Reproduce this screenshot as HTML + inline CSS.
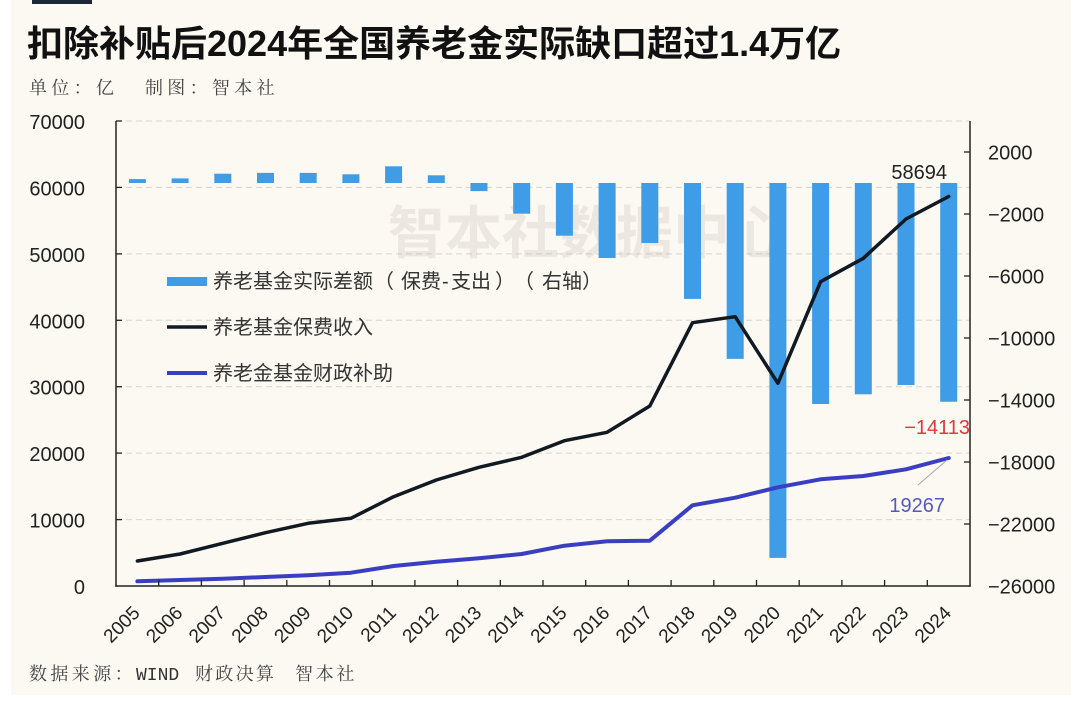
<!DOCTYPE html>
<html>
<head>
<meta charset="utf-8">
<style>
html,body{margin:0;padding:0;background:#ffffff;}
body{width:1080px;height:704px;overflow:hidden;}
svg{display:block;}
</style>
</head>
<body>
<svg width="1080" height="704" viewBox="0 0 1080 704" xmlns="http://www.w3.org/2000/svg">
  <rect x="0" y="0" width="1080" height="704" fill="#ffffff"/>
  <rect x="11" y="0" width="1060" height="695" fill="#fcf8f2"/>
  <rect x="32" y="0" width="60" height="4" fill="#1c2838"/>

  <!-- Title -->
  <text x="27" y="56" font-family="'Liberation Sans','Noto Sans CJK SC',sans-serif" font-size="36" font-weight="bold" fill="#111">扣除补贴后2024年全国养老金实际缺口超过1.4万亿</text>
  <!-- Subtitle -->
  <g font-family="'Noto Serif CJK SC','Noto Sans CJK SC',serif" font-size="18" fill="#444">
    <text x="29" y="94" letter-spacing="4.3">单位：亿</text>
    <text x="145" y="94" letter-spacing="4.3">制图：智本社</text>
  </g>

  <!-- Gridlines -->
  <g stroke="#d8d4ce" stroke-width="1" stroke-dasharray="6,4">
    <line x1="116" y1="121" x2="970" y2="121"/>
    <line x1="116" y1="187.4" x2="970" y2="187.4"/>
    <line x1="116" y1="253.9" x2="970" y2="253.9"/>
    <line x1="116" y1="320.3" x2="970" y2="320.3"/>
    <line x1="116" y1="386.7" x2="970" y2="386.7"/>
    <line x1="116" y1="453.1" x2="970" y2="453.1"/>
    <line x1="116" y1="519.6" x2="970" y2="519.6"/>
  </g>

  <!-- Watermark -->
  <text x="388" y="253" font-family="'Noto Sans CJK SC',sans-serif" font-size="57" font-weight="bold" fill="#b5b0aa" opacity="0.22">智本社数据中心</text>

  <!-- Bars -->
  <g fill="#3e9de6">
    <rect x="128.9" y="179.1" width="17" height="3.9"/>
    <rect x="171.6" y="178.4" width="17" height="4.6"/>
    <rect x="214.3" y="173.7" width="17" height="9.3"/>
    <rect x="257.0" y="172.9" width="17" height="10.1"/>
    <rect x="299.7" y="172.9" width="17" height="10.1"/>
    <rect x="342.4" y="174.3" width="17" height="8.7"/>
    <rect x="385.1" y="166.3" width="17" height="16.7"/>
    <rect x="427.8" y="175.3" width="17" height="7.7"/>
    <rect x="470.5" y="183" width="17" height="8.1"/>
    <rect x="513.2" y="183" width="17" height="30.7"/>
    <rect x="555.9" y="183" width="17" height="52.7"/>
    <rect x="598.6" y="183" width="17" height="75"/>
    <rect x="641.3" y="183" width="17" height="60"/>
    <rect x="684.0" y="183" width="17" height="115.9"/>
    <rect x="726.7" y="183" width="17" height="175.9"/>
    <rect x="769.4" y="183" width="17" height="374.9"/>
    <rect x="812.1" y="183" width="17" height="221"/>
    <rect x="854.8" y="183" width="17" height="211.3"/>
    <rect x="897.5" y="183" width="17" height="202"/>
    <rect x="940.2" y="183" width="17" height="218.75"/>
  </g>

  <!-- Lines -->
  <polyline fill="none" stroke="#111a22" stroke-width="3.5" stroke-linejoin="round" stroke-linecap="round"
    points="137.4,561 180.1,554 222.8,543.3 265.5,532.7 308.2,523.3 350.9,518.3 393.6,496.7 436.3,480 479.0,467.3 521.7,457.3 564.4,440.7 607.1,432.3 649.8,406 692.5,322.7 735.2,316.7 777.9,383.3 820.6,281.7 863.3,258.3 906.0,219 948.7,196.5"/>
  <polyline fill="none" stroke="#3a3fc2" stroke-width="4" stroke-linejoin="round" stroke-linecap="round"
    points="137.4,581.3 180.1,580 222.8,578.7 265.5,577 308.2,575.3 350.9,572.7 393.6,566 436.3,561.7 479.0,558.3 521.7,554 564.4,545.7 607.1,541.3 649.8,540.7 692.5,505.3 735.2,497.7 777.9,487.3 820.6,479.3 863.3,476 906.0,469.3 948.7,458"/>

  <!-- Axes -->
  <g stroke="#222" stroke-width="1.5" fill="none">
    <line x1="116" y1="121" x2="116" y2="586.7"/>
    <line x1="115.3" y1="586" x2="970.7" y2="586"/>
    <line x1="970" y1="121" x2="970" y2="586.7"/>
  </g>
  <g stroke="#222" stroke-width="1.3">
    <line x1="116" y1="121" x2="122" y2="121"/>
    <line x1="116" y1="187.4" x2="122" y2="187.4"/>
    <line x1="116" y1="253.9" x2="122" y2="253.9"/>
    <line x1="116" y1="320.3" x2="122" y2="320.3"/>
    <line x1="116" y1="386.7" x2="122" y2="386.7"/>
    <line x1="116" y1="453.1" x2="122" y2="453.1"/>
    <line x1="116" y1="519.6" x2="122" y2="519.6"/>
    <line x1="964" y1="152" x2="970" y2="152"/>
    <line x1="964" y1="214" x2="970" y2="214"/>
    <line x1="964" y1="276" x2="970" y2="276"/>
    <line x1="964" y1="338" x2="970" y2="338"/>
    <line x1="964" y1="400" x2="970" y2="400"/>
    <line x1="964" y1="462" x2="970" y2="462"/>
    <line x1="964" y1="524" x2="970" y2="524"/>
    <line x1="158.7" y1="586" x2="158.7" y2="580"/>
    <line x1="201.4" y1="586" x2="201.4" y2="580"/>
    <line x1="244.1" y1="586" x2="244.1" y2="580"/>
    <line x1="286.8" y1="586" x2="286.8" y2="580"/>
    <line x1="329.5" y1="586" x2="329.5" y2="580"/>
    <line x1="372.2" y1="586" x2="372.2" y2="580"/>
    <line x1="414.9" y1="586" x2="414.9" y2="580"/>
    <line x1="457.6" y1="586" x2="457.6" y2="580"/>
    <line x1="500.3" y1="586" x2="500.3" y2="580"/>
    <line x1="543.0" y1="586" x2="543.0" y2="580"/>
    <line x1="585.7" y1="586" x2="585.7" y2="580"/>
    <line x1="628.4" y1="586" x2="628.4" y2="580"/>
    <line x1="671.1" y1="586" x2="671.1" y2="580"/>
    <line x1="713.8" y1="586" x2="713.8" y2="580"/>
    <line x1="756.5" y1="586" x2="756.5" y2="580"/>
    <line x1="799.2" y1="586" x2="799.2" y2="580"/>
    <line x1="841.9" y1="586" x2="841.9" y2="580"/>
    <line x1="884.6" y1="586" x2="884.6" y2="580"/>
    <line x1="927.3" y1="586" x2="927.3" y2="580"/>
  </g>

  <!-- Left axis labels -->
  <g font-family="'Liberation Sans',sans-serif" font-size="20" fill="#222" text-anchor="end">
    <text x="85" y="129">70000</text>
    <text x="85" y="195.4">60000</text>
    <text x="85" y="261.9">50000</text>
    <text x="85" y="328.3">40000</text>
    <text x="85" y="394.7">30000</text>
    <text x="85" y="461.1">20000</text>
    <text x="85" y="527.6">10000</text>
    <text x="85" y="594">0</text>
  </g>
  <!-- Right axis labels -->
  <g font-family="'Liberation Sans',sans-serif" font-size="20" fill="#222">
    <text x="988" y="159.5">2000</text>
    <text x="988" y="221.5">−2000</text>
    <text x="988" y="283.5">−6000</text>
    <text x="988" y="345.5">−10000</text>
    <text x="988" y="407.5">−14000</text>
    <text x="988" y="469.5">−18000</text>
    <text x="988" y="531.5">−22000</text>
    <text x="988" y="593.5">−26000</text>
  </g>

  <!-- X labels -->
  <g font-family="'Liberation Sans',sans-serif" font-size="19" fill="#222" text-anchor="end">
    <text transform="translate(141,614) rotate(-45)">2005</text>
    <text transform="translate(183.7,614) rotate(-45)">2006</text>
    <text transform="translate(226.4,614) rotate(-45)">2007</text>
    <text transform="translate(269.1,614) rotate(-45)">2008</text>
    <text transform="translate(311.8,614) rotate(-45)">2009</text>
    <text transform="translate(354.5,614) rotate(-45)">2010</text>
    <text transform="translate(397.2,614) rotate(-45)">2011</text>
    <text transform="translate(439.9,614) rotate(-45)">2012</text>
    <text transform="translate(482.6,614) rotate(-45)">2013</text>
    <text transform="translate(525.3,614) rotate(-45)">2014</text>
    <text transform="translate(568.0,614) rotate(-45)">2015</text>
    <text transform="translate(610.7,614) rotate(-45)">2016</text>
    <text transform="translate(653.4,614) rotate(-45)">2017</text>
    <text transform="translate(696.1,614) rotate(-45)">2018</text>
    <text transform="translate(738.8,614) rotate(-45)">2019</text>
    <text transform="translate(781.5,614) rotate(-45)">2020</text>
    <text transform="translate(824.2,614) rotate(-45)">2021</text>
    <text transform="translate(866.9,614) rotate(-45)">2022</text>
    <text transform="translate(909.6,614) rotate(-45)">2023</text>
    <text transform="translate(952.3,614) rotate(-45)">2024</text>
  </g>

  <!-- Legend -->
  <rect x="167" y="277" width="40" height="9" fill="#3e9de6"/>
  <line x1="167" y1="327" x2="207" y2="327" stroke="#111a22" stroke-width="3.5"/>
  <line x1="167" y1="373" x2="207" y2="373" stroke="#3a3fc2" stroke-width="4"/>
  <g font-family="'Liberation Sans','Noto Sans CJK SC',sans-serif" font-size="20" fill="#333">
    <text x="213" y="288">养老基金实际差额</text>
    <text x="374" y="288">（</text>
    <text x="401" y="288">保费</text>
    <text x="442" y="288">-</text>
    <text x="451" y="288">支出</text>
    <text x="495" y="288">）</text>
    <text x="514" y="288">（</text>
    <text x="542" y="288">右轴</text>
    <text x="582" y="288">）</text>
    <text x="213" y="334">养老基金保费收入</text>
    <text x="213" y="380">养老金基金财政补助</text>
  </g>

  <!-- Annotations -->
  <text x="947" y="179" text-anchor="end" font-family="'Liberation Sans',sans-serif" font-size="20" fill="#222">58694</text>
  <text x="970" y="434" text-anchor="end" font-family="'Liberation Sans',sans-serif" font-size="20" fill="#e03a3a">−14113</text>
  <line x1="918" y1="485" x2="947" y2="460" stroke="#a8a8a8" stroke-width="1"/>
  <text x="945" y="512" text-anchor="end" font-family="'Liberation Sans',sans-serif" font-size="20" fill="#5558c0">19267</text>

  <!-- Source -->
  <g font-family="'Noto Serif CJK SC','Noto Sans CJK SC',serif" font-size="18" fill="#444">
    <text x="29" y="680" letter-spacing="3.4">数据来源：</text>
    <text x="136" y="680" font-family="'Liberation Mono',monospace" fill="#333">WIND</text>
    <text x="195" y="680" letter-spacing="2.3">财政决算</text>
    <text x="295" y="680" letter-spacing="2.7">智本社</text>
  </g>
</svg>
</body>
</html>
